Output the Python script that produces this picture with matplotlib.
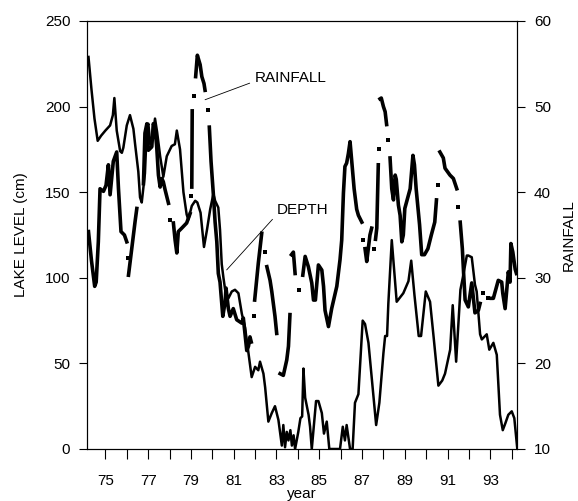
import numpy as np
import matplotlib.pyplot as plt

plt.rcParams['font.family'] = ['Liberation Sans', 'DejaVu Sans']
plt.rcParams['font.size'] = 11

# lake level, left axis (cm)
depth_year = [74.21, 74.35, 74.49, 74.64, 74.8, 75.0, 75.22, 75.35, 75.42, 75.53,
              75.69, 75.77, 75.84, 76.0, 76.15, 76.31, 76.39, 76.54, 76.62, 76.7,
              76.85, 76.94, 77.01, 77.1, 77.24, 77.32, 77.42, 77.56, 77.71, 77.87,
              78.1, 78.25, 78.34, 78.49, 78.65, 78.8, 78.88, 79.04, 79.2, 79.3,
              79.45, 79.61, 79.75, 79.9, 80.05, 80.13, 80.28, 80.36, 80.44, 80.52,
              80.6, 80.75, 80.91, 81.06, 81.22, 81.38, 81.53, 81.69, 81.84, 82.0,
              82.15, 82.23, 82.39, 82.47, 82.62, 82.78, 82.93, 83.09, 83.25, 83.32,
              83.4, 83.48, 83.56, 83.65, 83.72, 83.8, 83.87, 84.02, 84.12, 84.2,
              84.26, 84.34, 84.5, 84.57, 84.65, 84.85, 84.96, 85.12, 85.22, 85.35,
              85.47, 85.97, 86.1, 86.2, 86.28, 86.44, 86.56, 86.67, 86.83, 87.03,
              87.14, 87.3, 87.45, 87.66, 87.81, 88.0, 88.08, 88.17, 88.23, 88.39,
              88.5, 88.62, 88.93, 89.17, 89.3, 89.45, 89.65, 89.76, 89.98, 90.18,
              90.35, 90.57, 90.75, 90.88, 91.12, 91.24, 91.4, 91.6, 91.71, 91.9,
              91.97, 92.13, 92.28, 92.36, 92.52, 92.6, 92.83, 92.95, 93.14, 93.3,
              93.45, 93.58, 93.7, 93.84, 94.0, 94.12, 94.26]
depth_cm = [229, 210, 193, 180, 183, 186, 189, 195, 205, 186,
            174, 173, 176, 189, 195, 187, 178, 162, 147, 144,
            161, 188, 190, 178, 185, 193, 185, 171, 159, 171,
            177, 178, 186, 175, 150, 137, 134, 142, 145, 144,
            138, 118, 128, 140, 149, 145, 141, 128, 108, 100,
            93, 88, 92, 93, 91, 79, 71, 56, 42, 48,
            46, 51, 44, 36, 16, 21, 25, 17, 2, 14,
            1, 10, 5, 11, 2, 8, 0, 10, 18, 19,
            47, 30, 20, 13, 0, 28, 28, 21, 9, 16,
            0, 0, 13, 5, 14, 0, 0, 27, 32, 75,
            73, 62, 42, 14, 27, 56, 66, 66, 85, 122,
            105, 86, 91, 98, 110, 90, 66, 66, 92, 86,
            65, 37, 40, 44, 58, 84, 51, 93, 100, 113,
            113, 112, 96, 92, 67, 64, 67, 58, 62, 55,
            20, 11, 15, 20, 22, 18, 0]

# rainfall, right axis; None = break in the trace
rain_year = [74.21, 74.35, 74.5, 74.57, 74.67, 74.75, 74.91, 75.03, 75.14, 75.22,
             75.37, 75.53, 75.61, 75.73, 75.89, 76.0, None, 76.05, None, 76.08,
             76.23, 76.39, 76.47, None, 76.78, 76.85, 76.94, 77.01, 77.17, 77.24,
             77.32, 77.4, 77.48, 77.56, 77.64, 77.71, 77.79, 77.95, None, 78.02,
             None, 78.18, 78.26, 78.34, 78.41, 78.49, 78.57, 78.8, 78.96, None,
             79.0, None, 79.04, 79.06, None, 79.15, None, 79.22, 79.3, 79.43,
             79.51, 79.61, 79.66, None, 79.79, None, 79.86, 79.94, 80.05, 80.13,
             80.21, 80.28, 80.36, 80.49, 80.6, 80.64, 80.75, 80.83, 80.98, 81.14,
             81.26, 81.38, 81.45, 81.61, 81.69, 81.76, 81.82, None, 81.95, None,
             81.98, 82.15, 82.31, None, 82.45, None, 82.55, 82.7, 82.78, 82.93,
             83.01, None, 83.17, 83.32, 83.48, 83.56, 83.63, None, 83.7, 83.79,
             83.87, None, 84.05, None, 84.23, 84.34, 84.49, 84.65, 84.73, 84.82,
             84.96, 85.12, 85.2, 85.27, 85.43, 85.58, 85.82, 85.97, 86.05, 86.13,
             86.2, 86.28, 86.36, 86.44, 86.52, 86.63, 86.75, 86.83, 86.99, None,
             87.06, None, 87.14, 87.22, 87.37, 87.45, None, 87.56, None, 87.63,
             87.69, 87.76, None, 87.81, None, 87.84, 87.9, 88.0, 88.08, 88.15,
             None, 88.22, None, 88.31, 88.39, 88.47, 88.55, 88.6, 88.7, 88.78,
             88.86, 88.93, 89.0, 89.25, 89.38, 89.45, 89.53, 89.69, 89.79, 89.92,
             90.08, 90.24, 90.4, 90.48, None, 90.57, None, 90.64, 90.8, 90.88,
             91.11, 91.27, 91.43, None, 91.48, None, 91.59, 91.69, 91.75, 91.82,
             91.97, 92.13, 92.28, 92.44, 92.52, None, 92.64, None, 92.9, None,
             93.05, 93.14, 93.37, 93.53, 93.58, 93.69, 93.84, 93.92, 93.96, 94.05,
             94.16, 94.22]
rain_mm = [35.4, 32, 29, 29.5, 34.2, 40.4, 40.1, 40.8, 43.2, 39.7,
           43.6, 44.7, 40.5, 35.4, 35, 34.2, None, 32.3, None, 30.3,
           33.4, 36.6, 38.1, None, 41, 46.9, 48, 44.9, 45.3, 48,
           47.5, 45.3, 42, 40.6, 41.6, 41.2, 40.3, 38.7, None, 36.8,
           None, 36.4, 34.4, 32.9, 35.4, 35.6, 35.8, 36.4, 37.5, None,
           39.5, None, 40.6, 49.5, None, 51.2, None, 53.5, 56, 54.9,
           53.5, 52.7, 51.9, None, 49.6, None, 47.6, 43.6, 39.7, 36.5,
           34.2, 30.5, 29.5, 25.5, 27.2, 28.8, 26.4, 25.5, 26.4, 25.1,
           24.9, 24.7, 25.3, 21.5, 22, 23.1, 22.5, None, 25.5, None,
           27.4, 31.7, 35.2, None, 33, None, 31.3, 29.7, 28.4, 25.5,
           23.5, None, 18.8, 18.6, 20.4, 22, 25.7, None, 32.7, 33,
           30.5, None, 28.6, None, 30.3, 32.5, 31.3, 29.4, 27.4, 27.4,
           31.5, 30.9, 29, 26.2, 24.3, 26.4, 29, 32.1, 34.4, 39.9,
           43, 43.4, 44.5, 45.9, 43.6, 40.4, 38, 37.3, 36.5, None,
           34.4, None, 33.4, 31.9, 35, 35.8, None, 33.4, None, 34.5,
           35.8, 43.2, None, 45.1, None, 50.9, 51, 50, 49.4, 47.9,
           None, 46.1, None, 44, 40.4, 39.1, 42, 41.5, 38.5, 37.3,
           34.2, 35, 38.1, 40.4, 44.3, 43.2, 40.4, 36.2, 32.7, 32.7,
           33.4, 35, 36.5, 39.1, None, 40.8, None, 44.7, 44, 42.8,
           42, 41.6, 40.4, None, 38.3, None, 36.5, 33.4, 30.5, 27.4,
           26.6, 29.4, 25.9, 26.2, 27, None, 28.2, None, 27.6, None,
           27.6, 27.6, 29.7, 29.5, 28.2, 26.4, 30.7, 29.5, 34, 33,
           31, 30.5]

xticks = list(range(75, 95))
xticklabels = [str(y) if y % 2 else '' for y in xticks]

fig = plt.figure(figsize=(5.78, 5.01), dpi=100)
ax = fig.add_axes([0.1505, 0.1038, 0.7445, 0.8543])
ax2 = ax.twinx()

ax.plot(depth_year, depth_cm, color='black', lw=1.8)

ry = np.array(rain_year, dtype=float)
rv = np.array(rain_mm, dtype=float)
ax2.plot(ry, rv, color='black', lw=2.6)
# single readings between two breaks show up as dots
prev = np.r_[np.nan, rv[:-1]]
nxt = np.r_[rv[1:], np.nan]
lone = ~np.isnan(rv) & np.isnan(prev) & np.isnan(nxt)
ax2.plot(ry[lone], rv[lone], 's', color='black', ms=2.6, mew=0)

ax.set_xlim(74.14, 94.26)
ax.set_xticks(xticks)
ax.set_xticklabels(xticklabels)
ax.set_ylim(0, 250)
ax.set_yticks(range(0, 251, 50))
ax2.set_ylim(10, 60)
ax2.set_yticks(range(10, 61, 10))

for a in (ax, ax2):
    a.tick_params(direction='out', length=6, width=0.8, pad=6)
    for s in a.spines.values():
        s.set_linewidth(0.8)
ax.tick_params(axis='x', length=7, pad=11)

ax.set_xlabel('year', labelpad=-1)
ax.set_ylabel('LAKE LEVEL (cm)', labelpad=12)
ax2.set_ylabel('RAINFALL', labelpad=8)

ax2.annotate('RAINFALL', xy=(79.66, 50.8), xytext=(82.0, 53.3),
             ha='left', va='center',
             arrowprops=dict(arrowstyle='-', lw=0.6, relpos=(0, 0.3),
                             shrinkA=2, shrinkB=0))
ax.annotate('DEPTH', xy=(80.67, 104.6), xytext=(83.03, 139.6),
            ha='left', va='center',
            arrowprops=dict(arrowstyle='-', lw=0.6, relpos=(0, 0.2),
                            shrinkA=2, shrinkB=0))

fig.savefig('out.png', dpi=100)
